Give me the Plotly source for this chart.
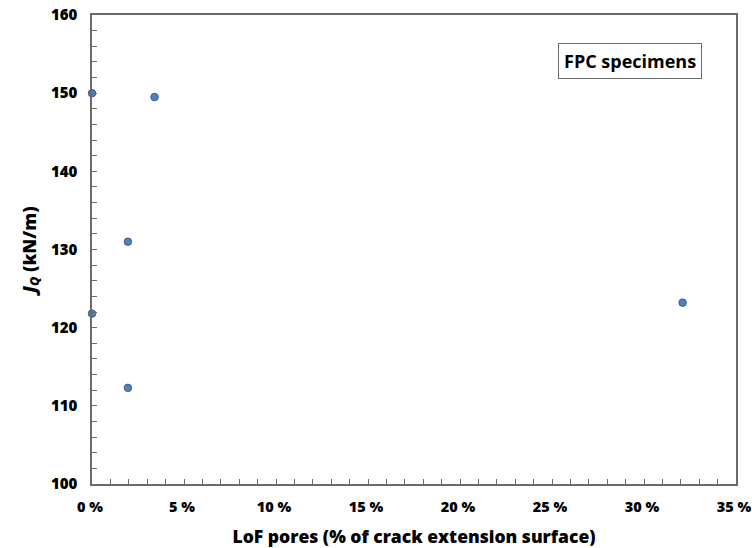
import plotly.graph_objects as go

lof_pores_pct = [0.0, 3.4, 1.95, 0.0, 1.95, 32.1]
jq_kn_per_m = [150.0, 149.5, 131.0, 121.8, 112.3, 123.2]

x_tickvals = [0, 5, 10, 15, 20, 25, 30, 35]
y_tickvals = [100, 110, 120, 130, 140, 150, 160]

FONT = "Open Sans"
AXIS_COLOR = "#6b6b6b"

fig = go.Figure()
fig.add_trace(go.Scatter(
    x=lof_pores_pct, y=jq_kn_per_m, mode="markers",
    marker=dict(size=7.5, color="#4F81BD", line=dict(color="#385D8A", width=1)),
    cliponaxis=False, showlegend=False,
))

fig.update_layout(
    width=752, height=548,
    margin=dict(l=92, r=16, t=15, b=64),
    paper_bgcolor="white", plot_bgcolor="white",
    font=dict(family=FONT, color="black"),
    xaxis=dict(
        range=[0, 35], tickvals=x_tickvals, ticktext=[f"{v} %" for v in x_tickvals],
        automargin=False, ticklabeloverflow="allow", ticklabelshift=-2,
        showgrid=False, zeroline=False, showline=True, linecolor=AXIS_COLOR, linewidth=1.5,
        mirror=True, ticks="inside", ticklen=5, tickcolor=AXIS_COLOR,
        minor=dict(dtick=1, ticks="inside", ticklen=5, tickcolor=AXIS_COLOR, showgrid=False),
        tickfont=dict(size=14.5, family=FONT, weight=800),
        ticklabelstandoff=9,
        title=dict(text="LoF pores (% of crack extension surface)",
                   font=dict(size=17.5, family=FONT, weight=800), standoff=16),
    ),
    yaxis=dict(
        range=[100, 160], tickvals=y_tickvals,
        automargin=False, ticklabeloverflow="allow",
        showgrid=False, zeroline=False, showline=True, linecolor=AXIS_COLOR, linewidth=1.5,
        mirror=True, ticks="inside", ticklen=5, tickcolor=AXIS_COLOR,
        minor=dict(dtick=2, ticks="inside", ticklen=5, tickcolor=AXIS_COLOR, showgrid=False),
        tickfont=dict(size=15, family=FONT, weight=800),
        ticklabelstandoff=10,
        title=dict(text="<i>J</i><sub><i>Q</i></sub> (kN/m)",
                   font=dict(size=18, family=FONT, weight=800), standoff=10),
    ),
    annotations=[dict(
        text="FPC specimens", xref="paper", yref="paper",
        x=0.835, y=0.902, xanchor="center", yanchor="middle", showarrow=False,
        font=dict(size=18, family=FONT, color="black", weight="bold"),
        bordercolor="#6b6b6b", borderwidth=1, borderpad=5, bgcolor="white",
    )],
)

fig.write_html("out.html", config={"displayModeBar": False},
               post_script="document.body.style.margin='0px';")
